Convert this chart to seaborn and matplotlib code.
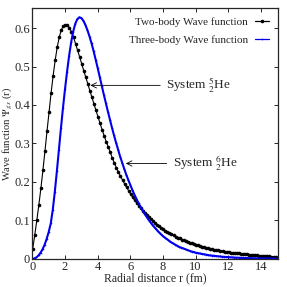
import numpy as np
import pandas as pd
import matplotlib
matplotlib.use("Agg")
import matplotlib.pyplot as plt
import seaborn as sns

# two-body wave function, sampled every 0.125 fm starting at r = 0.02
psi_two = [
    0.026, 0.062, 0.100, 0.140, 0.183, 0.230, 0.280, 0.332, 0.381, 0.431,
    0.476, 0.516, 0.550, 0.576, 0.595, 0.605, 0.609, 0.608, 0.601, 0.590,
    0.576, 0.559, 0.542, 0.525, 0.507, 0.489, 0.472, 0.455, 0.437, 0.420,
    0.403, 0.386, 0.369, 0.352, 0.336, 0.320, 0.305, 0.291, 0.277, 0.262,
    0.249, 0.237, 0.226, 0.215, 0.205, 0.195, 0.186, 0.177, 0.168, 0.160,
    0.152, 0.145, 0.138, 0.131, 0.125, 0.119, 0.113, 0.108, 0.103, 0.098,
    0.093, 0.089, 0.085, 0.081, 0.077, 0.073, 0.070, 0.067, 0.064, 0.061,
    0.058, 0.055, 0.053, 0.050, 0.048, 0.046, 0.044, 0.042, 0.040, 0.038,
    0.036, 0.035, 0.033, 0.032, 0.030, 0.029, 0.028, 0.026, 0.025, 0.024,
    0.023, 0.022, 0.021, 0.020, 0.019, 0.018, 0.017, 0.0165, 0.016, 0.015,
    0.0145, 0.014, 0.013, 0.0125, 0.012, 0.0115, 0.011, 0.0105, 0.010, 0.0095,
    0.009, 0.0085, 0.008, 0.0076, 0.0072, 0.0068, 0.0064, 0.006, 0.0057, 0.0054,
]
# three-body wave function, sampled every 0.125 fm starting at r = 0
psi_three = [
    0.000, 0.001, 0.004, 0.009, 0.016, 0.025, 0.037, 0.052, 0.070, 0.092,
    0.128, 0.175, 0.228, 0.284, 0.340, 0.393, 0.442, 0.487, 0.528, 0.563,
    0.591, 0.611, 0.623, 0.628, 0.626, 0.619, 0.608, 0.594, 0.578, 0.560,
    0.540, 0.518, 0.496, 0.473, 0.450, 0.427, 0.405, 0.383, 0.362, 0.341,
    0.321, 0.302, 0.284, 0.266, 0.250, 0.234, 0.219, 0.205, 0.192, 0.179,
    0.167, 0.156, 0.145, 0.135, 0.126, 0.117, 0.109, 0.101, 0.094, 0.087,
    0.081, 0.075, 0.069, 0.064, 0.059, 0.055, 0.051, 0.047, 0.043, 0.040,
    0.037, 0.034, 0.031, 0.029, 0.027, 0.025, 0.023, 0.021, 0.019, 0.018,
    0.016, 0.015, 0.014, 0.013, 0.012, 0.011, 0.010, 0.009, 0.0085, 0.008,
    0.0073, 0.0067, 0.0062, 0.0057, 0.0053, 0.0049, 0.0045, 0.0041, 0.0038, 0.0035,
    0.0032, 0.003, 0.0027, 0.0025, 0.0023, 0.0021, 0.0019, 0.0018, 0.0016, 0.0015,
    0.0014, 0.0013, 0.0012, 0.0011, 0.001, 0.0009, 0.0008, 0.0008, 0.0007, 0.0006,
    0.0006,
]
r_two = np.arange(len(psi_two)) * 0.125 + 0.02
r_three = np.arange(len(psi_three)) * 0.125

x_ticks = [0, 2, 4, 6, 8, 10, 12, 14]
y_ticks = [0, 0.1, 0.2, 0.3, 0.4, 0.5, 0.6]
y_tick_labels = ["0", "0.1", "0.2", "0.3", "0.4", "0.5", "0.6"]

df_two = pd.DataFrame({"r": r_two, "psi": psi_two})
df_three = pd.DataFrame({"r": r_three, "psi": psi_three})

sns.set_style("ticks")
plt.rcParams["font.family"] = ["Liberation Serif", "DejaVu Serif"]
plt.rcParams["mathtext.fontset"] = "stix"

fig = plt.figure(figsize=(2.87, 2.87), dpi=100)
ax = fig.add_axes([0.11, 0.098, 0.859, 0.874])

sns.lineplot(data=df_two, x="r", y="psi", ax=ax, color="black", linewidth=0.8,
             marker="o", markersize=2.6, markeredgewidth=0,
             label="Two-body Wave function")
sns.lineplot(data=df_three, x="r", y="psi", ax=ax, color="#0000ee", linewidth=1.5,
             marker="o", markersize=1.2, markeredgewidth=0,
             label="Three-body Wave function")

ax.set_xlim(-0.05, 15.05)
ax.set_ylim(0, 0.652)
ax.set_xticks(x_ticks)
ax.set_yticks(y_ticks)
ax.set_yticklabels(y_tick_labels)
ax.tick_params(direction="in", top=True, right=True, length=3, width=0.7,
               labelsize=9, pad=1.2)
for s in ax.spines.values():
    s.set_linewidth(0.9)

ax.set_xlabel("Radial distance r (fm)", fontsize=8.5, labelpad=0)
ax.set_ylabel(r"Wave function $\Psi_{gs}$ (r)", fontsize=7.6, va="center")
ax.yaxis.set_label_coords(-0.099, 0.5)

ax.annotate(r"System $^{5}_{2}$He", xy=(3.38, 0.451), xytext=(8.2, 0.451),
            fontsize=9.5, va="center", ha="left",
            arrowprops=dict(arrowstyle="->", color="black", lw=0.6))
ax.annotate(r"System $^{6}_{2}$He", xy=(5.55, 0.248), xytext=(8.6, 0.248),
            fontsize=9.5, va="center", ha="left",
            arrowprops=dict(arrowstyle="->", color="black", lw=0.6))

leg = ax.legend(loc="upper right", frameon=False, markerfirst=False, fontsize=8,
                handlelength=1.3, handletextpad=0.6, labelspacing=0.8,
                borderaxespad=0.4)
for h in leg.get_lines():
    h.set_linewidth(0.9)

plt.savefig("out.png", dpi=100)
